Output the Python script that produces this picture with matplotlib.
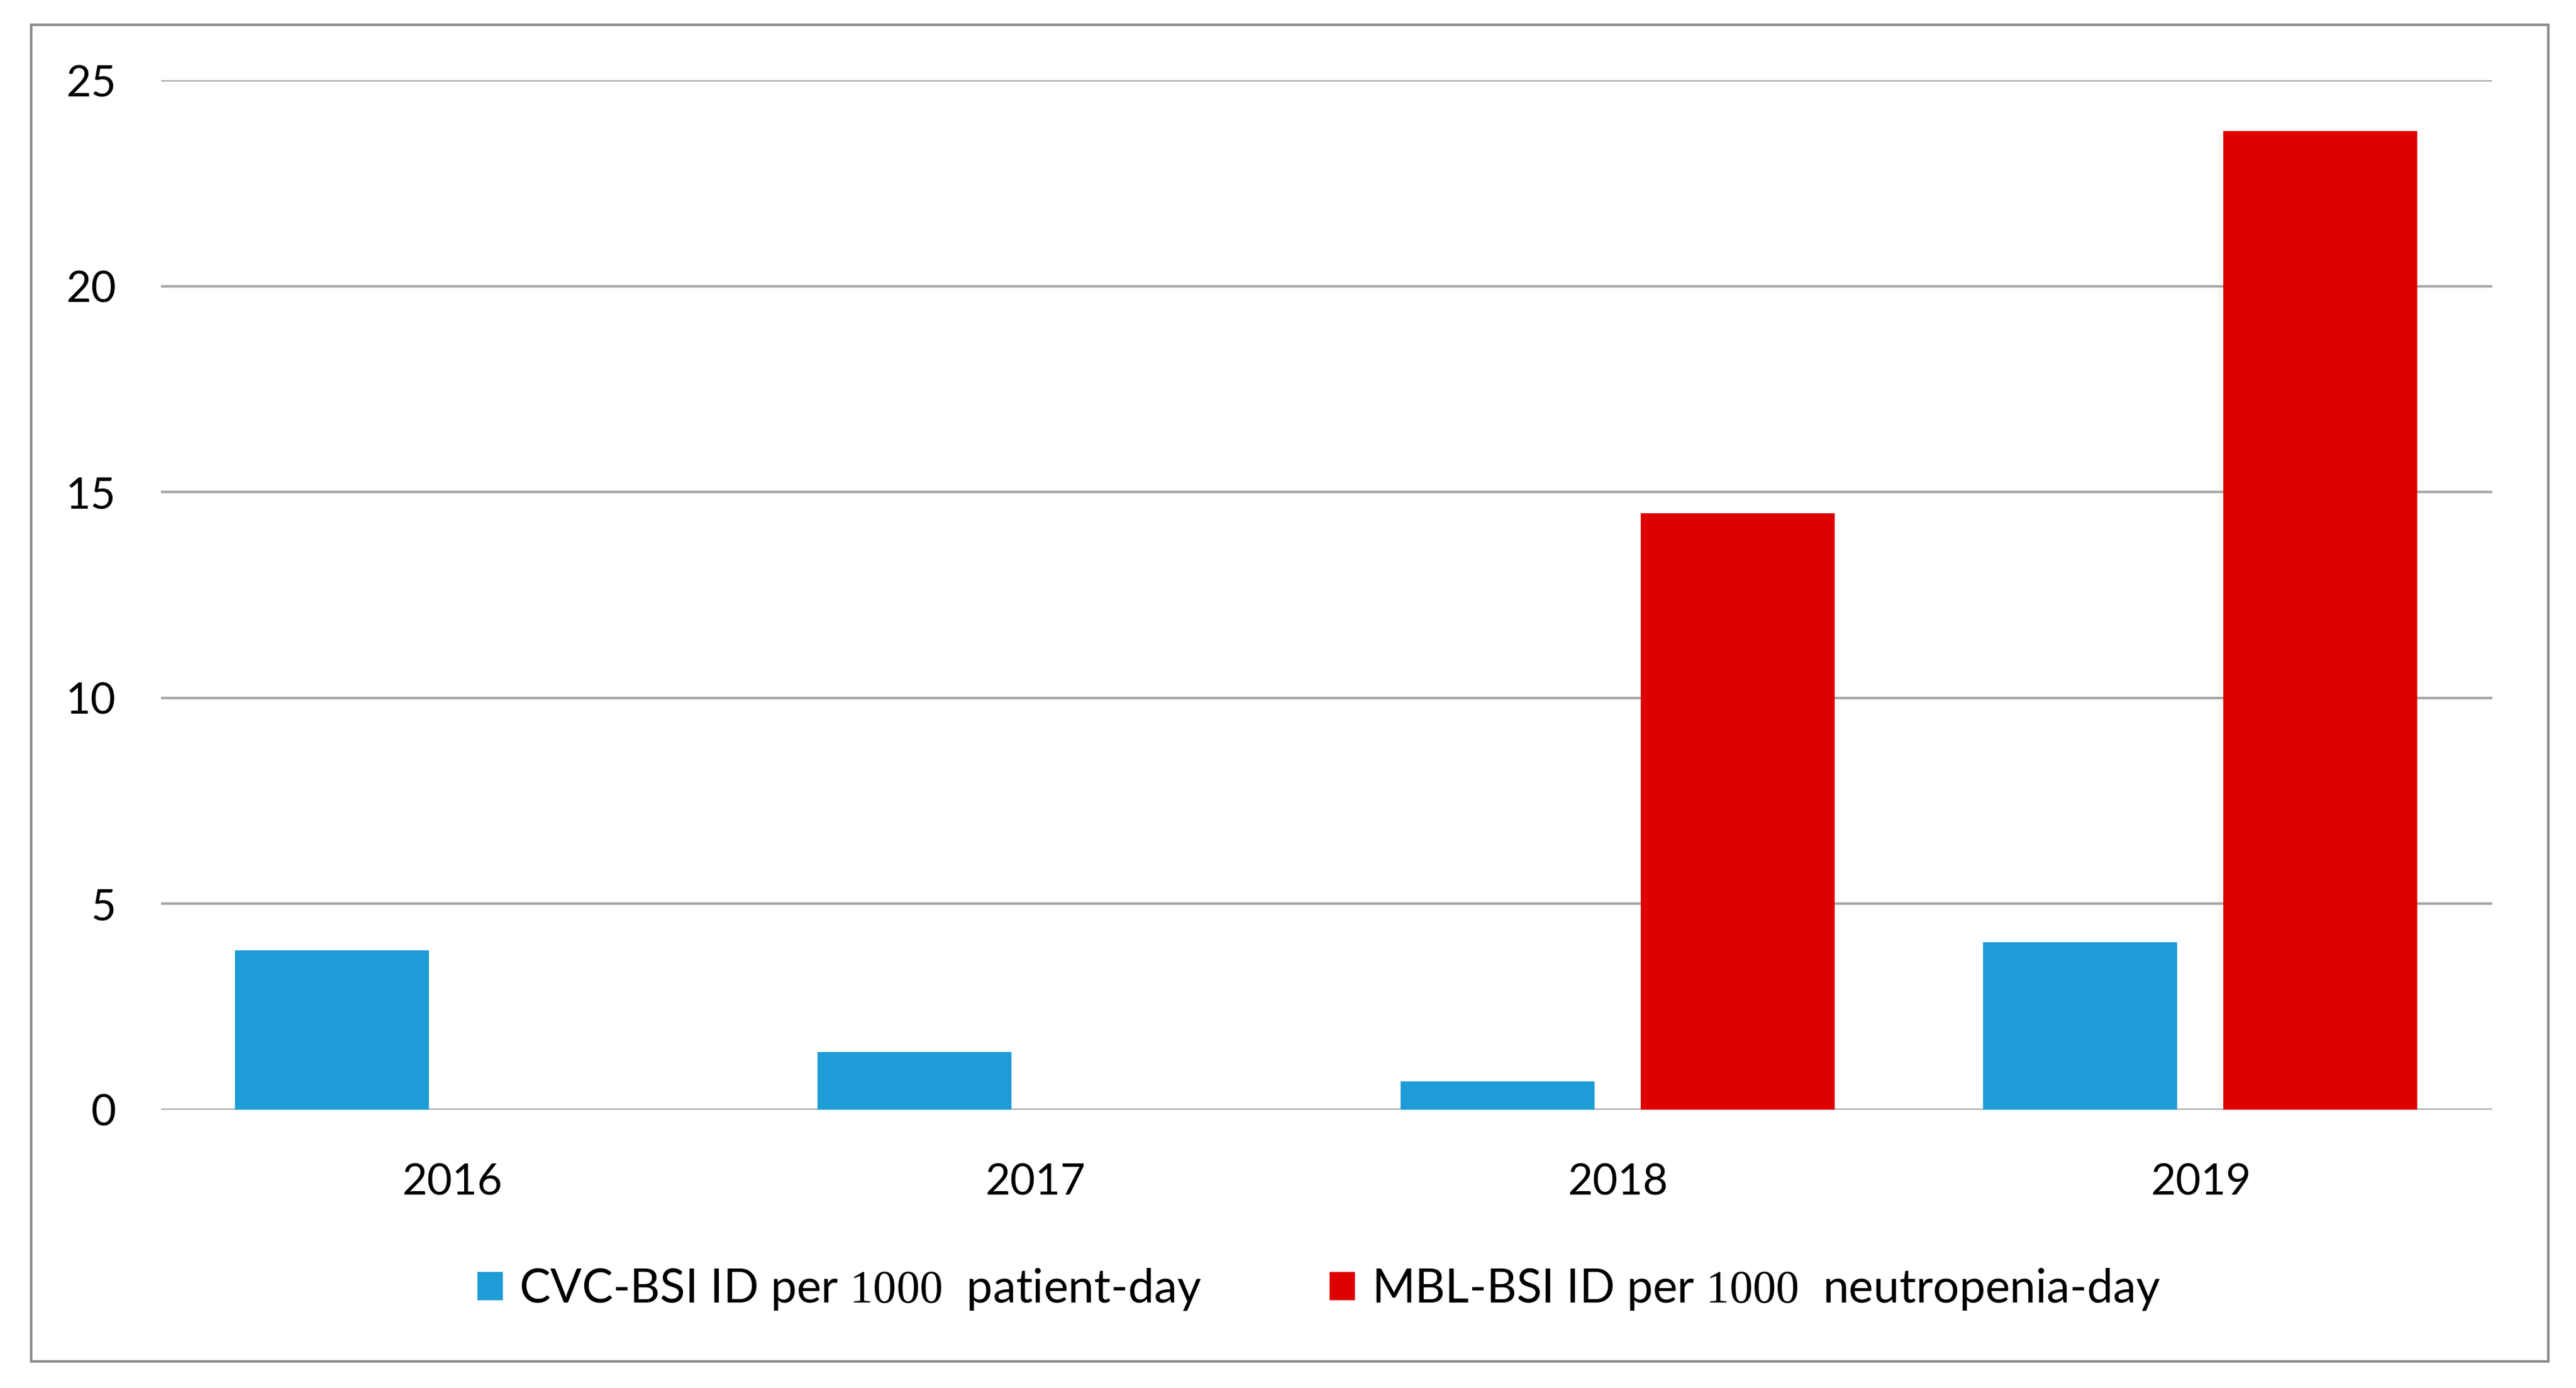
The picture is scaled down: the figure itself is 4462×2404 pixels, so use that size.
import matplotlib

matplotlib.use("Agg")
import matplotlib.pyplot as plt
import numpy as np
from matplotlib.patches import Rectangle

years = ["2016", "2017", "2018", "2019"]
cvc_bsi = [3.86, 1.39, 0.68, 4.06]
mbl_bsi = [0.0, 0.0, 14.49, 23.77]
y_ticks = [0, 5, 10, 15, 20, 25]

cvc_label = r"CVC-BSI ID per $\mathrm{1000}$  patient-day"
mbl_label = r"MBL-BSI ID per $\mathrm{1000}$  neutropenia-day"

BLUE = "#1E9CD7"
RED = "#DF0000"
GRID = "#A6A6A6"

plt.rcParams["font.family"] = ["Lato", "DejaVu Sans"]
plt.rcParams["mathtext.fontset"] = "custom"
plt.rcParams["mathtext.rm"] = "Liberation Serif"

fig = plt.figure(figsize=(22.31, 12.02), dpi=200)
ax = fig.add_axes([0.0625, 0.2007, 0.905, 0.7413])

x = np.arange(len(years))
width = 0.333
ax.bar(x - 0.207, cvc_bsi, width, color=BLUE, label=cvc_label, zorder=3)
ax.bar(x + 0.205, mbl_bsi, width, color=RED, label=mbl_label, zorder=3)

ax.set_xlim(-0.5, len(years) - 0.5)
ax.set_ylim(0, 25)
ax.set_yticks(y_ticks)
ax.set_xticks(x)
ax.set_xticklabels(years)
ax.tick_params(axis="both", length=0, labelsize=27, colors="#000000")
ax.tick_params(axis="y", pad=28)
ax.tick_params(axis="x", pad=33)
ax.yaxis.grid(True, color=GRID, linewidth=1.6, zorder=0)
ax.set_axisbelow(True)
for s in ax.spines.values():
    s.set_visible(False)

fig.legend(
    loc="center",
    bbox_to_anchor=(0.512, 0.071),
    ncol=2,
    frameon=False,
    fontsize=29,
    handlelength=0.55,
    handleheight=0.55,
    handletextpad=0.35,
    columnspacing=2.75,
)

# outer frame
fig.patches.append(
    Rectangle((0.0121, 0.019), 0.9771, 0.963, transform=fig.transFigure,
              fill=False, edgecolor="#8C8C8C", linewidth=1.6)
)

fig.savefig("out.png", dpi=200, facecolor="white")
